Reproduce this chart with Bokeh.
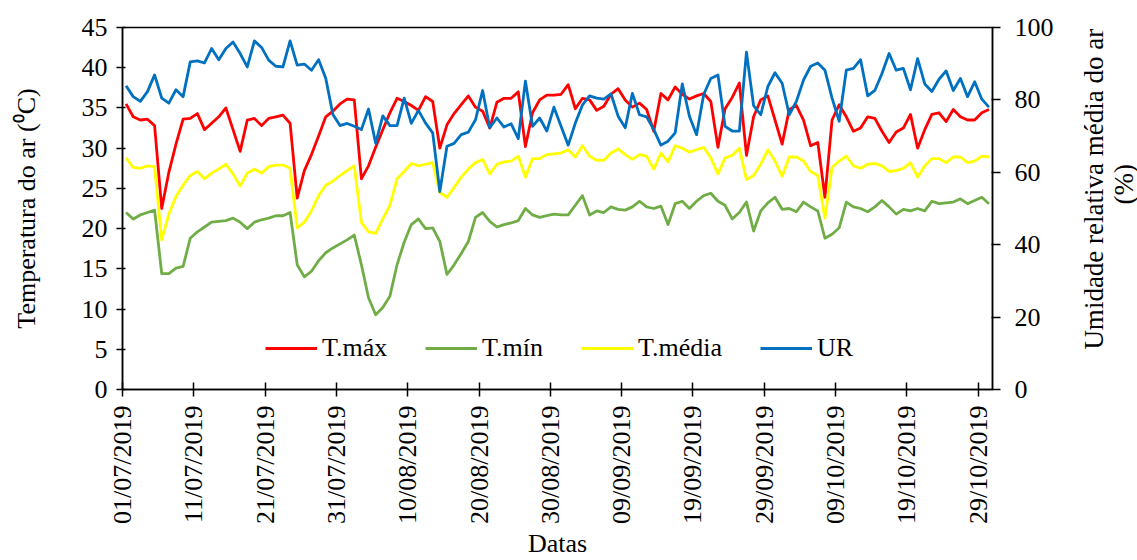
from math import pi

from bokeh.core.properties import value
from bokeh.embed import file_html
from bokeh.layouts import row
from bokeh.models import (FixedTicker, Legend, LegendItem, LinearAxis, Range1d)
from bokeh.plotting import figure
from bokeh.resources import INLINE

# Daily air temperature (degC) and mean relative humidity (%), 01/07/2019 - 30/10/2019
t_max = [
    35.5, 33.9, 33.5, 33.6, 32.8, 22.5, 27.0, 30.5, 33.6, 33.7,
    34.3, 32.3, 33.1, 33.9, 35.0, 32.3, 29.6, 33.5, 33.7, 32.8,
    33.7, 33.9, 34.1, 33.1, 23.8, 27.2, 29.2, 31.5, 33.9, 34.6,
    35.5, 36.1, 36.0, 26.2, 27.8, 30.1, 32.3, 34.4, 36.2, 35.8,
    35.3, 34.7, 36.4, 35.8, 30.0, 32.9, 34.3, 35.4, 36.5, 35.1,
    34.6, 32.5, 35.7, 36.2, 36.2, 37.0, 30.2, 34.4, 36.0, 36.6,
    36.6, 36.7, 37.9, 34.9, 36.2, 36.0, 34.7, 35.2, 36.7, 37.4,
    36.0, 35.1, 35.6, 34.8, 32.1, 36.8, 36.0, 37.6, 36.7, 36.1,
    36.5, 36.8, 35.8, 30.1, 34.9, 36.3, 38.1, 29.1, 33.9, 36.0,
    36.5, 33.5, 30.5, 34.8, 35.3, 33.5, 30.3, 30.7, 23.9, 33.5,
    35.4, 33.9, 32.1, 32.5, 33.9, 33.7, 32.1, 30.7, 32.0, 32.5,
    34.2, 30.0, 32.3, 34.2, 34.4, 33.3, 34.8, 33.9, 33.5, 33.5,
    34.4, 34.8,
]
t_min = [
    22.0, 21.2, 21.7, 22.0, 22.3, 14.4, 14.4, 15.1, 15.3, 18.8,
    19.6, 20.2, 20.8, 20.9, 21.0, 21.3, 20.8, 20.0, 20.8, 21.1,
    21.3, 21.6, 21.6, 22.0, 15.5, 14.0, 14.7, 16.0, 17.0, 17.6,
    18.1, 18.6, 19.2, 15.5, 11.4, 9.3, 10.2, 11.6, 15.5, 18.3,
    20.5, 21.2, 20.0, 20.1, 18.4, 14.3, 15.5, 16.9, 18.4, 21.4,
    22.0, 20.9, 20.2, 20.5, 20.7, 21.0, 22.5, 21.7, 21.4, 21.6,
    21.8, 21.7, 21.7, 22.9, 24.1, 21.7, 22.2, 22.0, 22.7, 22.4,
    22.3, 22.7, 23.4, 22.7, 22.5, 22.8, 20.5, 23.1, 23.4, 22.5,
    23.4, 24.1, 24.4, 23.4, 22.9, 21.2, 22.0, 23.3, 19.7, 22.2,
    23.2, 23.9, 22.4, 22.5, 22.1, 23.3, 22.7, 22.2, 18.8, 19.3,
    20.1, 23.3, 22.7, 22.5, 22.1, 22.7, 23.5, 22.7, 21.8, 22.4,
    22.2, 22.5, 22.2, 23.4, 23.1, 23.2, 23.3, 23.7, 23.1, 23.5,
    23.9, 23.1,
]
t_med = [
    28.8, 27.6, 27.5, 27.8, 27.7, 18.6, 21.8, 24.0, 25.4, 26.6,
    27.1, 26.2, 26.9, 27.4, 28.0, 26.8, 25.3, 26.9, 27.4, 26.9,
    27.7, 27.9, 27.9, 27.5, 20.1, 20.8, 22.2, 24.1, 25.4, 25.9,
    26.6, 27.2, 27.8, 20.8, 19.6, 19.4, 21.2, 22.9, 26.2, 27.1,
    28.1, 27.8, 28.0, 28.2, 24.5, 23.9, 25.1, 26.4, 27.4, 28.2,
    28.6, 26.8, 28.0, 28.3, 28.4, 29.0, 26.4, 28.7, 28.7, 29.2,
    29.3, 29.4, 29.8, 28.9, 30.3, 29.0, 28.5, 28.5, 29.4, 29.9,
    29.2, 28.6, 29.2, 29.0, 27.4, 29.4, 28.3, 30.3, 30.0, 29.5,
    29.8, 30.1, 28.8, 26.8, 28.8, 29.1, 30.0, 26.1, 26.6, 28.0,
    29.8, 28.4, 26.5, 28.9, 28.9, 28.4, 27.1, 26.6, 21.3, 27.6,
    28.4, 29.0, 27.8, 27.5, 28.0, 28.1, 27.8, 27.1, 27.2, 27.5,
    28.2, 26.4, 27.8, 28.7, 28.7, 28.2, 28.9, 28.9, 28.2, 28.4,
    29.0, 28.9,
]
ur = [
    83.9, 80.9, 79.6, 82.3, 86.9, 80.5, 79.1, 82.8, 80.9, 90.5,
    90.8, 90.2, 94.2, 91.1, 94.2, 96.0, 92.8, 89.1, 96.3, 94.5,
    91.0, 89.3, 89.1, 96.3, 89.6, 89.9, 88.2, 91.1, 86.0, 76.0,
    72.9, 73.5, 72.7, 71.8, 77.5, 68.0, 75.6, 72.9, 72.9, 80.5,
    73.5, 77.1, 73.6, 70.9, 54.7, 67.2, 68.0, 70.4, 71.1, 74.5,
    82.6, 72.3, 75.0, 72.5, 73.4, 69.3, 85.2, 72.7, 75.0, 71.4,
    78.0, 72.7, 67.5, 73.6, 78.6, 81.1, 80.5, 80.2, 81.7, 75.5,
    72.3, 81.8, 75.9, 75.3, 71.8, 67.5, 68.6, 70.9, 84.4, 75.5,
    70.4, 81.5, 85.9, 86.9, 72.7, 71.4, 71.4, 93.2, 78.4, 75.9,
    83.7, 87.5, 84.6, 75.9, 79.6, 85.5, 89.3, 90.2, 88.2, 80.5,
    74.1, 88.2, 88.7, 91.1, 81.1, 82.6, 87.3, 92.8, 88.2, 88.7,
    82.8, 91.4, 84.4, 82.3, 85.7, 88.0, 82.6, 85.9, 80.9, 85.0,
    80.2, 78.0,
]

# Date axis: days counted from 01/07/2019, one tick every 10 days
tick_days = [0, 10, 20, 30, 40, 50, 60, 70, 80, 90, 100, 110, 120]
tick_labels = [
    "01/07/2019", "11/07/2019", "21/07/2019", "31/07/2019", "10/08/2019",
    "20/08/2019", "30/08/2019", "09/09/2019", "19/09/2019", "29/09/2019",
    "09/10/2019", "19/10/2019", "29/10/2019",
]
temp_ticks = [0, 5, 10, 15, 20, 25, 30, 35, 40, 45]
ur_ticks = [0, 20, 40, 60, 80, 100]
ur_title = ["Umidade relativa média do ar", "(%)"]

# each daily value sits at the middle of its day
day_pos = [i + 0.5 for i in range(len(t_max))]

FONT = "Liberation Serif"
FS = "26px"
W_MAIN = 1060
W_SIDE = 1137 - W_MAIN
H = 560
B_TOP = 27
B_BOTTOM = 168

p = figure(
    width=W_MAIN, height=H,
    x_range=Range1d(0, 122), y_range=Range1d(0, 45),
    output_backend="svg", toolbar_location=None,
    min_border_left=122, min_border_right=68,
    min_border_top=B_TOP, min_border_bottom=B_BOTTOM,
)
p.extra_y_ranges = {"ur": Range1d(0, 100)}
p.grid.visible = False
p.background_fill_color = "white"
p.border_fill_color = "white"
p.outline_line_color = "black"
p.outline_line_width = 1.5

# bottom date axis
xa = p.xaxis[0]
xa.ticker = FixedTicker(ticks=tick_days)
xa.major_label_overrides = {d: lab for d, lab in zip(tick_days, tick_labels)}
xa.major_label_orientation = pi / 2
xa.major_label_standoff = 9
xa.major_label_text_font = FONT
xa.major_label_text_font_size = FS
xa.major_label_text_color = "black"
xa.axis_label = "Datas"
xa.axis_label_text_font = FONT
xa.axis_label_text_font_size = FS
xa.axis_label_text_font_style = "normal"
xa.axis_label_text_color = "black"
xa.axis_label_standoff = 2
xa.major_tick_in = 7
xa.major_tick_out = 7
xa.minor_tick_line_color = None
xa.axis_line_width = 1.5
xa.major_tick_line_width = 1.5

# left temperature axis
ya = p.yaxis[0]
ya.ticker = FixedTicker(ticks=temp_ticks)
ya.major_label_standoff = 9
ya.major_label_text_font = FONT
ya.major_label_text_font_size = FS
ya.major_label_text_color = "black"
ya.axis_label = "Temperatura do ar (\u2070C)"
ya.axis_label_text_font = FONT
ya.axis_label_text_font_size = FS
ya.axis_label_text_font_style = "normal"
ya.axis_label_text_color = "black"
ya.axis_label_standoff = 38
ya.major_tick_in = 3
ya.major_tick_out = 6
ya.minor_tick_line_color = None
ya.axis_line_width = 1.5
ya.major_tick_line_width = 1.5

# right humidity axis
ra = LinearAxis(y_range_name="ur", ticker=FixedTicker(ticks=ur_ticks))
ra.major_label_standoff = 14
ra.major_label_text_font = FONT
ra.major_label_text_font_size = FS
ra.major_label_text_color = "black"
ra.major_tick_in = 1
ra.major_tick_out = 8
ra.minor_tick_line_color = None
ra.axis_line_width = 1.5
ra.major_tick_line_width = 1.5
p.add_layout(ra, "right")

# series
r_max = p.line(day_pos, t_max, line_color="#FF0000", line_width=2.8, line_join="round")
r_min = p.line(day_pos, t_min, line_color="#70AD47", line_width=2.8, line_join="round")
r_med = p.line(day_pos, t_med, line_color="#FFFF00", line_width=2.8, line_join="round")
r_ur = p.line(day_pos, ur, line_color="#0070C0", line_width=2.8, line_join="round",
              y_range_name="ur")

# legend entries laid out in one row near the bottom of the plot area
legend_x = [143, 303, 459, 638]
for (lab, rend), lx in zip([("T.máx", r_max), ("T.mín", r_min),
                            ("T.média", r_med), ("UR", r_ur)], legend_x):
    leg = Legend(
        items=[LegendItem(label=lab, renderers=[rend])],
        location=(lx, 26),
        orientation="horizontal",
        padding=0, margin=0, spacing=0,
        glyph_width=52, glyph_height=30, label_height=30,
        label_standoff=5,
        label_text_font=FONT, label_text_font_size=FS,
        label_text_color="black",
        border_line_color=None, background_fill_alpha=0,
    )
    p.add_layout(leg)

# narrow side strip carrying the humidity axis title, read from bottom to top;
# its frame shares the main plot's vertical extent and temperature scale
side = figure(
    width=W_SIDE, height=H,
    x_range=Range1d(0, W_SIDE), y_range=Range1d(0, 45),
    x_axis_type=None, y_axis_type=None,
    output_backend="svg", toolbar_location=None,
    min_border_left=0, min_border_right=0,
    min_border_top=B_TOP, min_border_bottom=B_BOTTOM,
)
side.grid.visible = False
side.outline_line_color = None
side.background_fill_color = "white"
side.border_fill_color = "white"
side.text(
    x=[33, 63], y=[24.9, 25.5], text=ur_title,
    angle=pi / 2, text_align="center", text_baseline="middle",
    text_font=value(FONT), text_font_size="27px", text_color="black",
)

layout = row(p, side, spacing=0)
open("out.html", "w").write(file_html(layout, INLINE))
